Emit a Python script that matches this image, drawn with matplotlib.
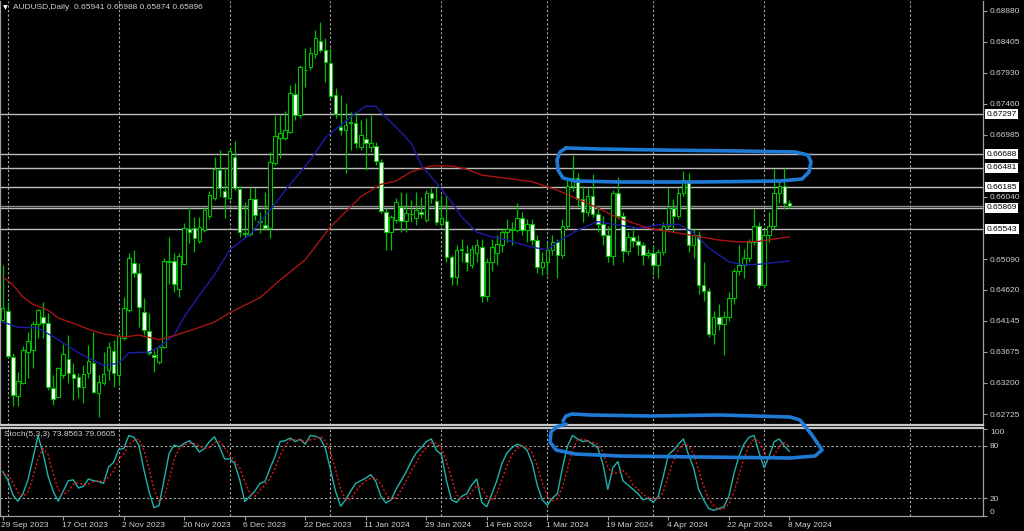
import matplotlib
matplotlib.use('Agg')
import matplotlib.pyplot as plt
import numpy as np
from matplotlib.lines import Line2D
import matplotlib.transforms as mtransforms

# ---------------- data ----------------
date_labels = ['29 Sep 2023', '17 Oct 2023', '2 Nov 2023', '20 Nov 2023', '6 Dec 2023',
               '22 Dec 2023', '11 Jan 2024', '29 Jan 2024', '14 Feb 2024', '1 Mar 2024',
               '19 Mar 2024', '4 Apr 2024', '22 Apr 2024', '8 May 2024']
date_label_bars = [0, 12, 24, 36, 48, 60, 72, 84, 96, 108, 120, 132, 144, 156]
month_start_bars = [1, 23, 45, 65, 87, 108, 129, 151, 180]

opens = [
    0.6416, 0.6430, 0.6360, 0.6300, 0.6320, 0.6367, 0.6370, 0.6410, 0.6420, 0.6411,
    0.6312, 0.6299, 0.6332, 0.6356, 0.6334, 0.6329, 0.6314, 0.6335, 0.6350, 0.6305,
    0.6320, 0.6340, 0.6369, 0.6332, 0.6389, 0.6431, 0.6503, 0.6488, 0.6428, 0.6399,
    0.6363, 0.6352, 0.6375, 0.6506, 0.6506, 0.6463, 0.6501, 0.6555, 0.6556, 0.6537,
    0.6553, 0.6575, 0.6602, 0.6645, 0.6613, 0.6602, 0.6665, 0.6616, 0.6549, 0.6547,
    0.6601, 0.6567, 0.6561, 0.6556, 0.6655, 0.6694, 0.6694, 0.6703, 0.6761, 0.6729,
    0.6797, 0.6802, 0.6822, 0.6841, 0.6828, 0.6808, 0.6759, 0.6710, 0.6706, 0.6718,
    0.6716, 0.6680, 0.6692, 0.6680, 0.6681, 0.6657, 0.6581, 0.6550, 0.6569, 0.6588,
    0.6567, 0.6578, 0.6572, 0.6581, 0.6569, 0.6610, 0.6597, 0.6562, 0.6567, 0.6512,
    0.6482, 0.6523, 0.6518, 0.6500, 0.6518, 0.6527, 0.6452, 0.6505, 0.6518, 0.6530,
    0.6550, 0.6555, 0.6553, 0.6572, 0.6553, 0.6563, 0.6538, 0.6497, 0.6505, 0.6523,
    0.6535, 0.6515, 0.6560, 0.6620, 0.6633, 0.6600, 0.6580, 0.6605, 0.6577, 0.6562,
    0.6545, 0.6513, 0.6610, 0.6575, 0.6521, 0.6543, 0.6537, 0.6530, 0.6515, 0.6518,
    0.6500, 0.6520, 0.6560, 0.6587, 0.6575, 0.6610, 0.6630, 0.6530, 0.6545, 0.6470,
    0.6460, 0.6395, 0.6420, 0.6410, 0.6420, 0.6450, 0.6490, 0.6500, 0.6510, 0.6535,
    0.6560, 0.6470, 0.6545, 0.6560, 0.6610, 0.6620, 0.65941]
highs = [
    0.6500, 0.6443, 0.6366, 0.6337, 0.6376, 0.6398, 0.6414, 0.6433, 0.6443, 0.6427,
    0.6332, 0.6344, 0.6379, 0.6393, 0.6350, 0.6335, 0.6347, 0.6378, 0.6398, 0.6332,
    0.6367, 0.6382, 0.6386, 0.6396, 0.6451, 0.6518, 0.6523, 0.6503, 0.6450, 0.6427,
    0.6370, 0.6378, 0.6511, 0.6543, 0.6518, 0.6518, 0.6564, 0.6588, 0.6573, 0.6573,
    0.6588, 0.6613, 0.6665, 0.6675, 0.6649, 0.6680, 0.6689, 0.6620, 0.6596, 0.6619,
    0.6617, 0.6581, 0.6611, 0.6672, 0.6729, 0.6729, 0.6735, 0.6774, 0.6777, 0.6805,
    0.6831, 0.6832, 0.6859, 0.6870, 0.6846, 0.6831, 0.6770, 0.6759, 0.6747, 0.6733,
    0.6733, 0.6721, 0.6724, 0.6729, 0.6688, 0.6662, 0.6587, 0.6576, 0.6602, 0.6611,
    0.6610, 0.6599, 0.6611, 0.6604, 0.6614, 0.6617, 0.6619, 0.6607, 0.6607, 0.6515,
    0.6530, 0.6540, 0.6530, 0.6530, 0.6540, 0.6540, 0.6510, 0.6540, 0.6545, 0.6557,
    0.6570, 0.6565, 0.6595, 0.6580, 0.6570, 0.6570, 0.6545, 0.6520, 0.6535, 0.6545,
    0.6540, 0.6570, 0.6630, 0.6668, 0.6640, 0.6620, 0.6618, 0.6638, 0.6590, 0.6575,
    0.6560, 0.6615, 0.6634, 0.6580, 0.6550, 0.6560, 0.6545, 0.6535, 0.6525, 0.6530,
    0.6525, 0.6565, 0.6618, 0.6600, 0.6618, 0.6644, 0.6640, 0.6555, 0.6552, 0.6505,
    0.6465, 0.6430, 0.6440, 0.6430, 0.6458, 0.6495, 0.6530, 0.6525, 0.6540, 0.6585,
    0.6565, 0.6555, 0.6580, 0.6646, 0.6630, 0.6648, 0.65988]
lows = [
    0.6413, 0.6358, 0.6285, 0.6285, 0.6318, 0.6328, 0.6343, 0.6389, 0.6389, 0.6309,
    0.6286, 0.6299, 0.6328, 0.6320, 0.6294, 0.6297, 0.6289, 0.6328, 0.6305, 0.6268,
    0.6317, 0.6325, 0.6314, 0.6317, 0.6386, 0.6428, 0.6482, 0.6405, 0.6393, 0.6363,
    0.6337, 0.6349, 0.6373, 0.6471, 0.6459, 0.6451, 0.6500, 0.6533, 0.6520, 0.6533,
    0.6550, 0.6570, 0.6599, 0.6604, 0.6572, 0.6599, 0.6614, 0.6543, 0.6543, 0.6544,
    0.6569, 0.6549, 0.6553, 0.6541, 0.6652, 0.6663, 0.6691, 0.6701, 0.6721, 0.6724,
    0.6771, 0.6797, 0.6816, 0.6825, 0.6779, 0.6755, 0.6724, 0.6698, 0.6640, 0.6675,
    0.6678, 0.6675, 0.6645, 0.6672, 0.6652, 0.6579, 0.6523, 0.6523, 0.6564, 0.6550,
    0.6550, 0.6565, 0.6561, 0.6572, 0.6565, 0.6594, 0.6561, 0.6559, 0.6505, 0.6469,
    0.6470, 0.6505, 0.6490, 0.6495, 0.6505, 0.6443, 0.6445, 0.6490, 0.6500, 0.6520,
    0.6535, 0.6530, 0.6550, 0.6545, 0.6535, 0.6530, 0.6488, 0.6485, 0.6485, 0.6515,
    0.6480, 0.6510, 0.6555, 0.6612, 0.6590, 0.6565, 0.6575, 0.6573, 0.6550, 0.6530,
    0.6505, 0.6500, 0.6570, 0.6505, 0.6515, 0.6528, 0.6515, 0.6500, 0.6510, 0.6485,
    0.6480, 0.6515, 0.6555, 0.6550, 0.6570, 0.6605, 0.6520, 0.6510, 0.6455, 0.6445,
    0.6390, 0.6380, 0.6400, 0.6362, 0.6415, 0.6440, 0.6485, 0.6480, 0.6505, 0.6530,
    0.6465, 0.6465, 0.6535, 0.6555, 0.6595, 0.6585, 0.65874]
closes = [
    0.6434, 0.6361, 0.6302, 0.6323, 0.6370, 0.6384, 0.6410, 0.6431, 0.6411, 0.6314,
    0.6295, 0.6343, 0.6364, 0.6335, 0.6328, 0.6314, 0.6334, 0.6353, 0.6306, 0.6322,
    0.6334, 0.6375, 0.6335, 0.6392, 0.6434, 0.6511, 0.6488, 0.6436, 0.6401, 0.6366,
    0.6360, 0.6375, 0.6506, 0.6505, 0.6471, 0.6514, 0.6556, 0.6550, 0.6541, 0.6558,
    0.6584, 0.6607, 0.6646, 0.6617, 0.6604, 0.6674, 0.6617, 0.6550, 0.6547, 0.6601,
    0.6576, 0.6565, 0.6556, 0.6657, 0.6697, 0.6701, 0.6706, 0.6762, 0.6729, 0.6802,
    0.6797, 0.6823, 0.6846, 0.6828, 0.6809, 0.6758, 0.6730, 0.6706, 0.6713, 0.6717,
    0.6686, 0.6698, 0.6686, 0.6686, 0.6659, 0.6582, 0.6550, 0.6573, 0.6596, 0.6567,
    0.6579, 0.6577, 0.6584, 0.6578, 0.6610, 0.6602, 0.6565, 0.6572, 0.6512, 0.6482,
    0.6523, 0.6524, 0.6505, 0.6525, 0.6530, 0.6452, 0.6505, 0.6527, 0.6532, 0.6550,
    0.6555, 0.6553, 0.6572, 0.6553, 0.6563, 0.6538, 0.6497, 0.6505, 0.6523, 0.6535,
    0.6515, 0.6560, 0.6620, 0.6633, 0.6600, 0.6580, 0.6605, 0.6577, 0.6562, 0.6545,
    0.6513, 0.6610, 0.6575, 0.6521, 0.6543, 0.6537, 0.6530, 0.6515, 0.6518, 0.6500,
    0.6520, 0.6560, 0.6587, 0.6575, 0.6610, 0.6630, 0.6530, 0.6545, 0.6470, 0.6460,
    0.6395, 0.6420, 0.6410, 0.6420, 0.6450, 0.6490, 0.6500, 0.6510, 0.6535, 0.6560,
    0.6470, 0.6545, 0.6560, 0.6610, 0.6620, 0.6594, 0.65896]

ma_blue_bars = [0, 3, 7, 11, 15, 20, 23, 25, 29, 31, 34, 36, 39, 42, 45, 49, 53, 57, 61, 64,
                67, 70, 72, 74, 75, 78, 81, 83, 86, 89, 91, 94, 97, 99, 105, 108, 110, 114, 118, 122,
                126, 130, 134, 137, 140, 144, 147, 150, 156]
ma_blue = [0.6413, 0.6405, 0.6404, 0.6386, 0.6366, 0.6347, 0.6350, 0.6366, 0.6367, 0.6375,
           0.6393, 0.6421, 0.6454, 0.6485, 0.6523, 0.6546, 0.6584, 0.6623, 0.6660, 0.6694,
           0.6713, 0.6732, 0.6742, 0.6742, 0.6733, 0.6710, 0.6686, 0.6652, 0.6625, 0.6596,
           0.6573, 0.6550, 0.6543, 0.6540, 0.6527, 0.6523, 0.6535, 0.6553, 0.6566, 0.6561,
           0.6556, 0.6561, 0.6562, 0.6549, 0.6526, 0.6505, 0.6500, 0.6501, 0.6506]
ma_red_bars = [0, 2, 4, 6, 9, 11, 14, 17, 20, 24, 27, 31, 34, 38, 42, 45, 51, 55, 60, 65,
               71, 75, 78, 81, 85, 89, 92, 95, 99, 105, 110, 116, 122, 128, 136, 142, 146, 150, 156]
ma_red = [0.6482, 0.6470, 0.6451, 0.6440, 0.6431, 0.6419, 0.6411, 0.6402, 0.6395, 0.6390,
          0.6393, 0.6386, 0.6392, 0.6402, 0.6413, 0.6427, 0.6450, 0.6477, 0.6508, 0.6558,
          0.6604, 0.6623, 0.6628, 0.6642, 0.6651, 0.6651, 0.6646, 0.6637, 0.6633, 0.6627,
          0.6614, 0.6594, 0.6572, 0.6556, 0.6546, 0.6538, 0.6535, 0.6536, 0.6543]

stoch_k = [
    50.6, 41, 24, 16.4, 25, 41, 66, 92, 71.5, 45,
    28, 16.4, 28, 40, 41, 31.6, 33.5, 42, 40, 39,
    37, 56, 61, 76, 77, 92, 90, 81, 52.5, 28,
    9, 11.5, 41, 71.5, 81, 79, 83, 86, 81, 73,
    77, 85, 90.5, 79, 65, 65, 60, 41, 16, 22,
    28, 37, 39, 54, 68, 85, 86, 89, 85, 87.5,
    82, 92, 91, 88.6, 77, 52.5, 28, 10.7, 18, 28,
    37, 40, 43, 47, 39, 22, 14.5, 18, 30, 40,
    50, 62, 72, 78, 85, 88, 75, 70, 40, 18,
    15, 22, 25, 35, 42, 15, 10, 25, 40, 60,
    72, 78, 82, 80, 75, 60, 35, 18, 12, 20,
    25, 55, 80, 92, 88, 85, 86, 82, 78, 60,
    30, 55, 62, 40, 35, 30, 25, 18, 20, 15,
    22, 45, 70, 75, 82, 88, 70, 55, 30, 18,
    8, 6, 8, 10, 22, 48, 68, 82, 90, 92,
    72, 55, 68, 85, 88, 80, 73.8563]
stoch_d = [
    48, 47, 38, 27, 22, 27, 44, 66, 77, 70,
    48, 30, 24, 28, 36, 38, 35, 36, 39, 40,
    39, 44, 51, 64, 71, 82, 86, 88, 75, 54,
    30, 16, 21, 41, 65, 77, 81, 83, 83, 80,
    77, 78, 84, 85, 78, 70, 63, 55, 39, 26,
    22, 29, 35, 43, 54, 69, 80, 87, 87, 87,
    85, 87, 88, 91, 86, 73, 53, 30, 19, 19,
    28, 35, 40, 43, 43, 36, 25, 18, 21, 29,
    40, 51, 61, 71, 78, 84, 83, 78, 62, 43,
    24, 18, 21, 27, 34, 31, 22, 17, 25, 42,
    57, 70, 77, 80, 79, 72, 57, 38, 22, 17,
    19, 33, 53, 76, 87, 88, 86, 84, 82, 73,
    56, 48, 49, 52, 46, 35, 30, 24, 21, 18,
    19, 27, 46, 63, 76, 82, 80, 71, 52, 34,
    19, 11, 7, 8, 13, 27, 46, 66, 80, 88,
    85, 73, 65, 69, 80, 84, 79.0605]

hline_levels = [0.67297, 0.66688, 0.66481, 0.66185, 0.65869, 0.65543]
bid_price = 0.65896
price_ticks = [0.68880, 0.68405, 0.67930, 0.67460, 0.66985, 0.66040,
               0.65090, 0.64620, 0.64145, 0.63675, 0.63200, 0.62725]
stoch_levels = [80, 20]
title_text = 'AUDUSD,Daily  0.65941 0.65988 0.65874 0.65896'
stoch_text = 'Stoch(5,3,3) 73.8563 79.0605'

# ---------------- styling ----------------
W, H = 1024, 531
FONT = 'Liberation Sans'
GREEN = '#00c000'
TXT = '#d0d0d0'
AXC = '#a0a0a0'
GRIDC = '#a8a8a8'

fig = plt.figure(figsize=(W / 100, H / 100), dpi=100, facecolor='black')


def fx(px):
    return px / W


def fy(py):
    return 1 - py / H


ax = fig.add_axes([fx(0), fy(425), fx(983), (425 - 1) / H])
axs = fig.add_axes([fx(0), fy(515.5), fx(983), (515.5 - 427.5) / H])

x_left, x_right = -0.54, 194.4
for a in (ax, axs):
    a.set_facecolor('black')
    a.set_xlim(x_left, x_right)
    for v in month_start_bars:
        a.axvline(v, color=GRIDC, lw=0.8, ls=(0, (2, 2)), zorder=0.5)

ax.set_ylim(0.625588, 0.69025)
axs.set_ylim(0.23, 101.2)

# ---------- candles ----------
idx = np.arange(len(opens))
o = np.array(opens)
h = np.array(highs)
l = np.array(lows)
c = np.array(closes)
bull = c >= o
body_bot = np.minimum(o, c)
body_h = np.maximum(np.abs(c - o), 0.00004)

for v in hline_levels:
    ax.axhline(v, color='#bdbdbd', lw=1.0, zorder=1)
ax.axhline(bid_price, color='#8a8a8a', lw=1.0, zorder=0.9)

ax.vlines(idx, l, h, color=GREEN, lw=0.9, zorder=3)
ax.bar(idx[bull], body_h[bull], bottom=body_bot[bull], width=0.7,
       color='black', edgecolor=GREEN, lw=0.8, zorder=4)
ax.bar(idx[~bull], body_h[~bull], bottom=body_bot[~bull], width=0.7,
       color='white', edgecolor=GREEN, lw=0.8, zorder=4)

ax.plot(ma_blue_bars, ma_blue, color='#1c1ca8', lw=1.0, zorder=5)
ax.plot(ma_red_bars, ma_red, color='#a81414', lw=1.0, zorder=5)

# ---------- price axis ----------
ax.yaxis.tick_right()
ax.set_yticks(price_ticks)
ax.set_yticklabels([f'{p:.5f}' for p in price_ticks])
ax.tick_params(axis='y', colors=AXC, labelcolor=TXT, length=3, width=0.8,
               labelsize=6, pad=2)
for t in ax.get_yticklabels():
    t.set_fontfamily(FONT)
ax.tick_params(axis='x', bottom=False, labelbottom=False)

for v in hline_levels:
    ax.annotate(f'{v:.5f}', xy=(1.0, v), xycoords=('axes fraction', 'data'),
                xytext=(3.5, 0), textcoords='offset pixels', ha='left', va='center',
                fontsize=6, family=FONT, color='black', zorder=10, annotation_clip=False,
                bbox=dict(boxstyle='square,pad=0.18', fc='white', ec='none'))

# spines
for a in (ax, axs):
    for s in a.spines.values():
        s.set_color(AXC)
        s.set_linewidth(0.9)
ax.spines['top'].set_visible(False)
ax.spines['bottom'].set_color('#c8c8c8')
ax.spines['bottom'].set_linewidth(1.6)
axs.spines['top'].set_color('#c8c8c8')
axs.spines['top'].set_linewidth(1.6)

# ---------- stochastic ----------
for v in stoch_levels:
    axs.axhline(v, color=GRIDC, lw=0.8, ls=(0, (2, 2)), zorder=0.6)
axs.plot(idx, stoch_k, color='#20b2aa', lw=1.0, zorder=3)
axs.plot(idx, stoch_d, color='#e01818', lw=1.0, ls=(0, (1.5, 1.5)), zorder=3)

axs.yaxis.tick_right()
axs.set_yticks([0, 20, 80, 100])
axs.set_yticklabels(['0', '20', '80', '100'])
axs.tick_params(axis='y', colors=AXC, labelcolor=TXT, length=3, width=0.8,
                labelsize=6, pad=2)
for t in axs.get_yticklabels():
    t.set_fontfamily(FONT)
    if t.get_text() == '100':
        t.set_va('top')
    elif t.get_text() == '0':
        t.set_va('bottom')

axs.set_xticks(date_label_bars)
axs.set_xticklabels(date_labels)
axs.tick_params(axis='x', colors=AXC, labelcolor=TXT, length=3, width=0.8,
                labelsize=6, pad=1.5)
for t in axs.get_xticklabels():
    t.set_fontfamily(FONT)
    t.set_ha('left')
    t.set_transform(t.get_transform() + mtransforms.ScaledTranslation(-1.5 / 100, 0, fig.dpi_scale_trans))

# ---------- texts ----------
fig.text(fx(3), fy(7.5), '\u25bc', fontsize=4.5, color='white', family='DejaVu Sans',
         va='center', ha='left')
fig.text(fx(13), fy(7.5), title_text, fontsize=6, color=TXT, family=FONT, va='center', ha='left')
fig.text(fx(4), fy(435), stoch_text, fontsize=6, color=TXT, family=FONT, va='center', ha='left')

# ---------- hand-drawn highlight outlines ----------
BLUE_MARK = '#1f7ad6'
outline_main = [(566, 148), (560, 152), (557, 160), (558, 170), (563, 178), (575, 181),
                (620, 182), (700, 182), (780, 181), (802, 179), (809, 172), (811, 162),
                (808, 155), (795, 152), (740, 151), (660, 150), (600, 149), (566, 148)]
outline_stoch = [(563, 421), (566, 416), (572, 414), (590, 415), (650, 416), (720, 415),
                 (790, 417), (800, 420), (812, 435), (822, 450), (815, 456), (790, 458),
                 (700, 457), (620, 456), (575, 454), (556, 450), (550, 442), (551, 432),
                 (556, 427), (566, 424)]
for pts in (outline_main, outline_stoch):
    xs = [fx(p[0]) for p in pts]
    ys = [fy(p[1]) for p in pts]
    fig.add_artist(Line2D(xs, ys, transform=fig.transFigure, color=BLUE_MARK, lw=2.6,
                          solid_capstyle='round', solid_joinstyle='round', zorder=20))

fig.savefig('out.png', dpi=100, facecolor='black')
